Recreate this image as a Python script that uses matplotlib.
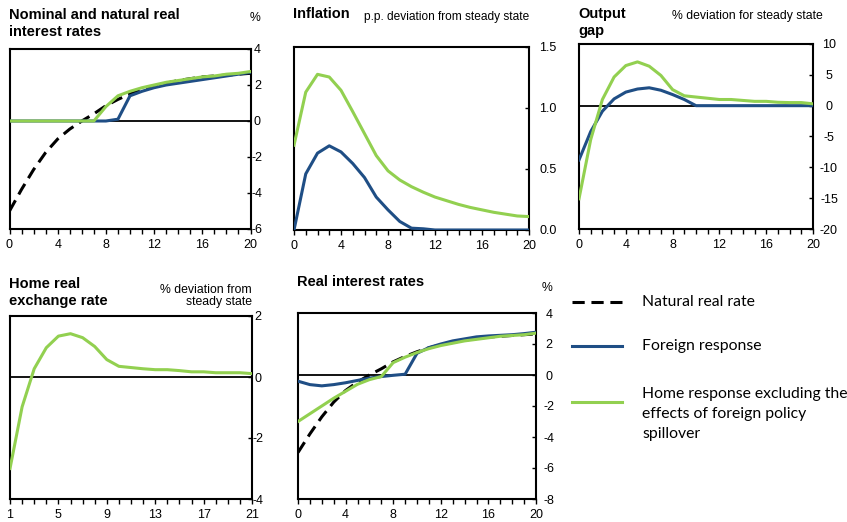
import numpy as np
import matplotlib
matplotlib.use('Agg')
import matplotlib.pyplot as plt
from matplotlib.ticker import MultipleLocator, FormatStrFormatter
from matplotlib.lines import Line2D

plt.rcParams['font.family'] = ['Liberation Sans', 'DejaVu Sans']
plt.rcParams['axes.unicode_minus'] = False

# quarters after the shock
quarters = list(range(0, 21))
quarters_rer = list(range(1, 22))

natural_rate = [-5.0, -3.8, -2.7, -1.75, -1.0, -0.45, 0.0, 0.4, 0.85, 1.2, 1.5,
                1.75, 1.95, 2.1, 2.25, 2.35, 2.45, 2.5, 2.55, 2.6, 2.65]

nominal_foreign = [0, 0, 0, 0, 0, 0, 0, 0, 0, 0.1, 1.4, 1.65, 1.85, 2.0, 2.1,
                   2.2, 2.3, 2.4, 2.5, 2.6, 2.7]
nominal_home = [0, 0, 0, 0, 0, 0, 0, 0, 0.8, 1.4, 1.65, 1.85, 2.0, 2.15, 2.25,
                2.35, 2.45, 2.5, 2.6, 2.65, 2.75]

infl_foreign = [0.0, 0.46, 0.63, 0.69, 0.64, 0.545, 0.43, 0.27, 0.165, 0.07,
                0.015, 0.01, 0, 0, 0, 0, 0, 0, 0, 0, 0]
infl_home = [0.695, 1.13, 1.276, 1.254, 1.145, 0.97, 0.79, 0.61, 0.485, 0.41,
             0.355, 0.31, 0.27, 0.24, 0.21, 0.185, 0.165, 0.145, 0.13, 0.115, 0.11]

gap_foreign = [-8.8, -4.2, -0.9, 1.1, 2.2, 2.7, 2.9, 2.5, 1.8, 1.0, 0, 0, 0, 0,
               0, 0, 0, 0, 0, 0, 0]
gap_home = [-15.1, -5.5, 1.0, 4.65, 6.5, 7.1, 6.4, 4.9, 2.6, 1.6, 1.4, 1.2, 1.0,
            1.0, 0.85, 0.7, 0.7, 0.55, 0.5, 0.5, 0.3]

rer_home = [-3.0, -0.98, 0.27, 0.96, 1.34, 1.42, 1.29, 1.0, 0.57, 0.35, 0.31,
            0.27, 0.24, 0.24, 0.21, 0.17, 0.17, 0.14, 0.14, 0.14, 0.11]

real_foreign = [-0.4, -0.62, -0.7, -0.62, -0.5, -0.35, -0.2, -0.1, -0.02, 0.05,
                1.4, 1.77, 2.0, 2.2, 2.33, 2.46, 2.52, 2.56, 2.6, 2.67, 2.76]
real_home = [-3.0, -2.5, -2.0, -1.5, -1.05, -0.6, -0.3, -0.1, 0.8, 1.15, 1.45,
             1.7, 1.9, 2.05, 2.2, 2.3, 2.4, 2.5, 2.55, 2.6, 2.7]

GREEN = '#92D050'
BLUE = '#1F4E85'

W, H = 847, 522
fig = plt.figure(figsize=(W / 100, H / 100), dpi=100)


def px_rect(l, t, r, b):
    return [l / W, 1 - b / H, (r - l) / W, (b - t) / H]


def ftext(x, y, s, **kw):
    fig.text(x / W, 1 - y / H, s, **kw)


def setup(ax, xlim, ylim, xmaj, ystep, pad, fmt=None):
    ax.set_xlim(*xlim)
    ax.set_ylim(*ylim)
    ax.set_xticks(xmaj)
    ax.xaxis.set_minor_locator(MultipleLocator(1))
    ax.yaxis.set_major_locator(MultipleLocator(ystep))
    if fmt:
        ax.yaxis.set_major_formatter(FormatStrFormatter(fmt))
    ax.yaxis.tick_right()
    ax.tick_params(axis='x', which='both', direction='out', length=3.5,
                   width=1, labelsize=9, pad=4)
    ax.tick_params(axis='y', direction='in', length=3, width=1,
                   labelsize=9, pad=pad)
    for lab in ax.get_yticklabels():
        lab.set_horizontalalignment('center')
    for sp in ax.spines.values():
        sp.set_linewidth(1.5)
    ax.axhline(0, color='black', lw=1.3, zorder=1)


lw = 2.2
dash = (0, (4, 2.2))

# Nominal and natural real interest rates
ax1 = fig.add_axes(px_rect(9.5, 49, 250.5, 229))
ax1.plot(quarters, natural_rate, color='black', lw=2.2, ls=dash, zorder=2)
ax1.plot(quarters, nominal_foreign, color=BLUE, lw=lw, zorder=3)
ax1.plot(quarters, nominal_home, color=GREEN, lw=lw, zorder=4)
setup(ax1, (0, 20), (-6, 4), range(0, 21, 4), 2, 5)

# Inflation
ax2 = fig.add_axes(px_rect(294, 47, 529, 230))
ax2.plot(quarters, infl_foreign, color=BLUE, lw=lw, zorder=3)
ax2.plot(quarters, infl_home, color=GREEN, lw=lw, zorder=4)
setup(ax2, (0, 20), (0, 1.5), range(0, 21, 4), 0.5, 13.5, '%.1f')

# Output gap
ax3 = fig.add_axes(px_rect(579, 44, 813, 229))
ax3.plot(quarters, gap_foreign, color=BLUE, lw=lw, zorder=3)
ax3.plot(quarters, gap_home, color=GREEN, lw=lw, zorder=4)
setup(ax3, (0, 20), (-20, 10), range(0, 21, 4), 5, 11.5)

# Home real exchange rate
ax4 = fig.add_axes(px_rect(10, 316, 252, 499))
ax4.plot(quarters_rer, rer_home, color=GREEN, lw=lw, zorder=4)
setup(ax4, (1, 21), (-4, 2), range(1, 22, 4), 2, 4)

# Real interest rates
ax5 = fig.add_axes(px_rect(298, 313, 536, 499))
ax5.plot(quarters, natural_rate, color='black', lw=2.2, ls=dash, zorder=2)
ax5.plot(quarters, real_foreign, color=BLUE, lw=lw, zorder=3)
ax5.plot(quarters, real_home, color=GREEN, lw=lw, zorder=4)
setup(ax5, (0, 20), (-8, 4), range(0, 21, 4), 2, 9.5)

# titles and units
tkw = dict(fontsize=10.5, fontweight='bold', va='top', ha='left', linespacing=1.25)
ukw = dict(fontsize=8.8, va='center')
ftext(9, 8, 'Nominal and natural real\ninterest rates', **tkw)
ftext(255, 18, '%', ha='center', **ukw)
ftext(293, 7, 'Inflation', **tkw)
ftext(364, 17, 'p.p. deviation from steady state', ha='left', fontsize=8.6,
      va='center')
ftext(578, 7, 'Output\ngap', **tkw)
ftext(672, 16, '% deviation for steady state', ha='left', **ukw)
ftext(9, 277, 'Home real\nexchange rate', **tkw)
ftext(252, 296, '% deviation from\nsteady state', ha='right', fontsize=8.8,
      va='center', linespacing=1.0)
ftext(297, 275, 'Real interest rates', **tkw)
ftext(547, 288, '%', ha='center', **ukw)

# legend
lkw = dict(fontsize=11.3, family=['Lato', 'DejaVu Sans'], va='center', ha='left')
fig.add_artist(Line2D([572 / W, 622 / W], [1 - 302 / H] * 2, color='black',
                      lw=2.2, ls=dash))
fig.add_artist(Line2D([572 / W, 622 / W], [1 - 346 / H] * 2, color=BLUE, lw=lw))
fig.add_artist(Line2D([572 / W, 622 / W], [1 - 402 / H] * 2, color=GREEN, lw=lw))
ftext(642, 302, 'Natural real rate', **lkw)
ftext(642, 346, 'Foreign response', **lkw)
ftext(642, 414, 'Home response excluding the\neffects of foreign policy\nspillover',
      linespacing=1.55, **lkw)

fig.savefig('out.png', dpi=100)
